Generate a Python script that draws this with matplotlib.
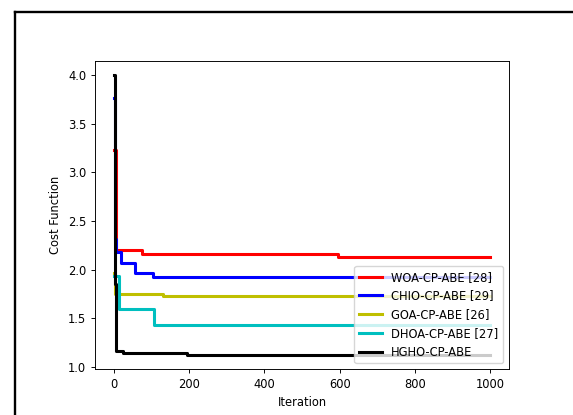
import matplotlib
matplotlib.use("Agg")
import matplotlib.pyplot as plt
from matplotlib.lines import Line2D

# step breakpoints (iteration, cost)
woa_x = [0, 5, 74, 595, 1000]
woa_y = [3.23, 2.20, 2.16, 2.135, 2.135]

chio_x = [0, 2, 7, 20, 56, 104, 1000]
chio_y = [3.76, 2.32, 2.18, 2.07, 1.97, 1.93, 1.93]

goa_x = [0, 4, 131, 1000]
goa_y = [1.97, 1.755, 1.735, 1.735]

dhoa_x = [0, 13, 106, 1000]
dhoa_y = [1.94, 1.595, 1.43, 1.43]

hgho_x = [0, 2, 5, 24, 195, 1000]
hgho_y = [4.0, 1.85, 1.17, 1.146, 1.124, 1.124]

labels = ['WOA-CP-ABE [28]', 'CHIO-CP-ABE [29]', 'GOA-CP-ABE [26]',
          'DHOA-CP-ABE [27]', 'HGHO-CP-ABE']

plt.rcParams['font.size'] = 8.3
plt.rcParams['axes.linewidth'] = 0.67
plt.rcParams['xtick.major.width'] = 0.67
plt.rcParams['ytick.major.width'] = 0.67
plt.rcParams['xtick.major.size'] = 2.9
plt.rcParams['ytick.major.size'] = 2.9

fig = plt.figure(figsize=(5.73, 4.15), dpi=100)
ax = fig.add_axes([95/573, 1 - 369/415, 414/573, 308/415])

lw = 2.2
ax.plot(woa_x, woa_y, 'r', lw=lw, drawstyle='steps-post', label=labels[0])
ax.plot(chio_x, chio_y, 'b', lw=lw, drawstyle='steps-post', label=labels[1])
ax.plot(goa_x, goa_y, 'y', lw=lw, drawstyle='steps-post', label=labels[2])
ax.plot(dhoa_x, dhoa_y, 'c', lw=lw, drawstyle='steps-post', label=labels[3])
ax.plot(hgho_x, hgho_y, 'k', lw=lw, drawstyle='steps-post', label=labels[4])

ax.set_xlabel('Iteration')
ax.set_ylabel('Cost Function')
ax.legend(loc='lower right')

# screenshot frame: only left and top edges are inside the image
fx, fy = 14.5/573, 1 - 12.5/415
fig.add_artist(Line2D([fx, fx], [0.0, fy], transform=fig.transFigure,
                      color='black', linewidth=1.7, solid_capstyle='projecting'))
fig.add_artist(Line2D([fx, 0.998], [fy, fy], transform=fig.transFigure,
                      color='black', linewidth=1.7, solid_capstyle='projecting'))

fig.savefig('out.png', dpi=100)
